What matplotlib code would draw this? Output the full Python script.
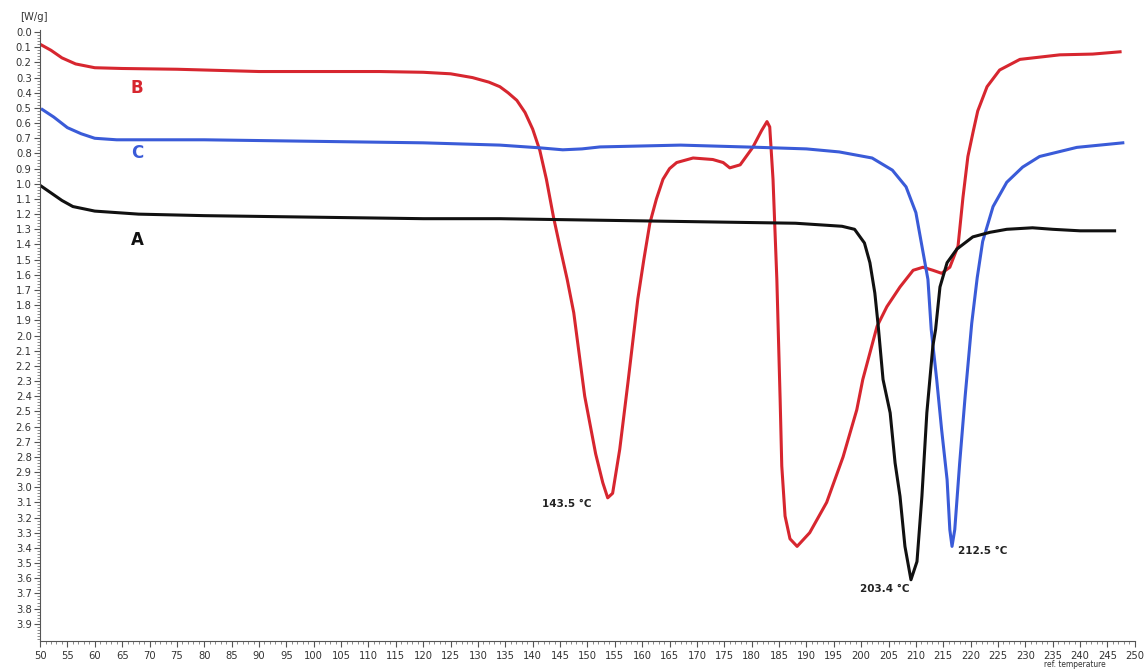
import matplotlib
matplotlib.use("Agg")
import matplotlib.pyplot as plt
from matplotlib.ticker import MultipleLocator, FormatStrFormatter

plt.rcParams['font.family'] = ['Liberation Sans Narrow', 'DejaVu Sans']
plt.rcParams['font.stretch'] = 'condensed'

# Curve B (red)
b_temp = [50, 52, 54, 56.5, 60, 65, 75, 90, 112, 120, 125, 129, 132, 134, 135.5, 137.1, 138.6,
          140, 141.3, 142.5, 143.8, 145, 146.3, 147.5, 149.5, 151.5, 152.8, 153.7, 154.6, 155.9,
          157.4, 159.2, 160.3, 161.4, 162.6, 163.8, 165, 166.3, 169.3, 172.9, 174.8, 176, 177.9,
          180.2, 181.8, 182.8, 183.3, 183.9, 184.6, 185.2, 185.5, 186.1, 187, 188.3, 190.6,
          193.7, 196.7, 199.2, 200.3, 202.9, 204.7, 207.1, 209.5, 211.3, 213.1, 214.7, 216.2,
          217.7, 218.6, 219.5, 220.5, 221.3, 223, 225.3, 229, 236.3, 242.3, 247.3]
b_flow = [0.08, 0.12, 0.17, 0.21, 0.235, 0.24, 0.245, 0.26, 0.26, 0.265, 0.275, 0.30, 0.33, 0.36,
          0.40, 0.45, 0.53,
          0.64, 0.78, 0.97, 1.22, 1.42, 1.63, 1.85, 2.40, 2.78, 2.97, 3.07, 3.04, 2.75,
          2.31, 1.76, 1.50, 1.26, 1.10, 0.97, 0.90, 0.86, 0.83, 0.84, 0.86, 0.895, 0.875,
          0.76, 0.65, 0.59, 0.625, 0.97, 1.63, 2.42, 2.86, 3.19, 3.34, 3.39, 3.30,
          3.10, 2.80, 2.49, 2.29, 1.94, 1.81, 1.68, 1.57, 1.55, 1.57, 1.59, 1.55,
          1.41, 1.09, 0.82, 0.65, 0.52, 0.36, 0.25, 0.18, 0.15, 0.145, 0.13]

# Curve C (blue)
c_temp = [50.4, 52.5, 55, 57.5, 60, 64, 80, 100, 120, 134, 141.3, 145.5, 149, 152.3, 167, 181.5,
          190, 196, 202, 205.7, 208.2, 210, 211.1, 212.2, 212.8, 213.8, 214.7, 215.7, 216.2,
          216.6, 217.1, 218, 219, 220.2, 221.2, 222.2, 224.1, 226.6, 229.5, 232.6, 239.4, 247.8]
c_flow = [0.51, 0.56, 0.63, 0.67, 0.70, 0.71, 0.71, 0.72, 0.73, 0.745, 0.763, 0.776, 0.77, 0.757,
          0.745, 0.76, 0.77, 0.79, 0.83, 0.91, 1.02, 1.19, 1.41, 1.63, 1.96, 2.29, 2.62, 2.95,
          3.28, 3.39, 3.28, 2.84, 2.40, 1.92, 1.62, 1.38, 1.15, 0.99, 0.89, 0.82, 0.76, 0.73]

# Curve A (black)
a_temp = [50, 52, 54, 56, 60, 68, 80, 100, 120, 134, 152, 170, 188, 196.5, 198.8, 200.6, 201.6,
          202.5, 203.1, 204, 205.3, 206.2, 207.1, 208, 209.1, 210.2, 211.1, 212, 213.1, 213.6,
          214.4, 215.7, 217.5, 220.4, 223.5, 226.6, 231.3, 235, 240, 246.3]
a_flow = [1.01, 1.06, 1.11, 1.15, 1.18, 1.20, 1.21, 1.22, 1.23, 1.23, 1.24, 1.25, 1.26, 1.28,
          1.30, 1.39, 1.52, 1.72, 1.93, 2.29, 2.51, 2.84, 3.06, 3.39, 3.61, 3.49, 3.06, 2.51,
          2.07, 1.96, 1.68, 1.52, 1.43, 1.35, 1.32, 1.30, 1.29, 1.30, 1.31, 1.31]

peak_labels = ["143.5 °C", "203.4 °C", "212.5 °C"]
peak_label_pos = [(146.3, 3.11), (204.3, 3.67), (222.2, 3.42)]
curve_names = ["A", "B", "C"]
curve_name_pos = [(67.7, 1.37), (67.7, 0.37), (67.7, 0.80)]

red = "#d7262f"
blue = "#3a5bd8"
black = "#111111"

fig = plt.figure(figsize=(11.44, 6.69), dpi=100)
ax = fig.add_axes([0.035, 0.042, 0.957, 0.913])

ax.plot(b_temp, b_flow, color=red, lw=2.2, solid_joinstyle='round')
ax.plot(c_temp, c_flow, color=blue, lw=2.2, solid_joinstyle='round')
ax.plot(a_temp, a_flow, color=black, lw=2.2, solid_joinstyle='round')

for name, (x, y), col in zip(curve_names, curve_name_pos, [black, red, blue]):
    ax.text(x, y, name, color=col, fontsize=12, fontweight='bold', ha='center', va='center',
            family=['DejaVu Sans'], fontstretch='normal')

for lab, (x, y) in zip(peak_labels, peak_label_pos):
    ax.text(x, y, lab, color="#222222", fontsize=7.5, fontweight='bold', ha='center', va='center',
            family=['DejaVu Sans'], fontstretch='normal')

ax.set_xlim(50, 250)
ax.set_ylim(4.013, -0.013)
ax.xaxis.set_major_locator(MultipleLocator(5))
ax.xaxis.set_minor_locator(MultipleLocator(1))
ax.yaxis.set_minor_locator(MultipleLocator(0.02))
ax.set_yticks([i / 10 for i in range(40)])
ax.yaxis.set_major_formatter(FormatStrFormatter('%.1f'))

for s in ['top', 'right']:
    ax.spines[s].set_visible(False)
for s in ['left', 'bottom']:
    ax.spines[s].set_color('#555555')
    ax.spines[s].set_linewidth(0.8)

ax.tick_params(axis='both', which='major', direction='out', length=4, width=0.8,
               colors='#555555', labelcolor='#333333', labelsize=8, pad=2)
ax.tick_params(axis='both', which='minor', direction='out', length=2, width=0.6, colors='#777777')
ax.tick_params(axis='x', which='major', pad=3)

fig.text(0.018, 0.975, "[W/g]", fontsize=8, color='#333333', ha='left', va='center')
fig.text(0.94, 0.0, "ref. temperature", fontsize=6, color='#333333', ha='center', va='bottom')

fig.savefig("out.png", dpi=100)
